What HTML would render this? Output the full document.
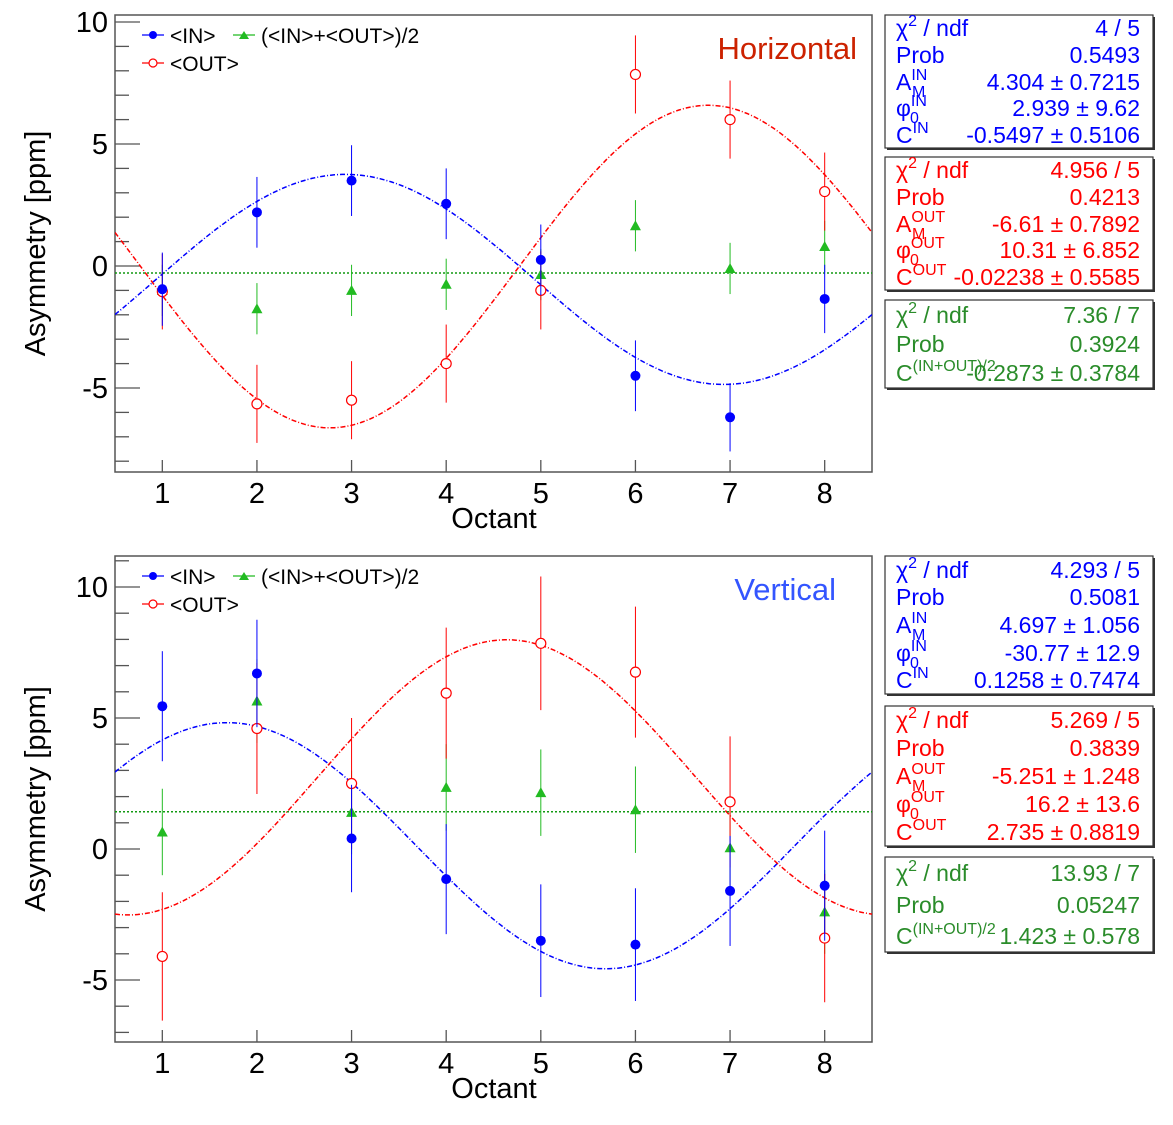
<!DOCTYPE html>
<html><head><meta charset="utf-8">
<style>
html,body{margin:0;padding:0;background:#fff;}
svg{display:block;font-family:"Liberation Sans",sans-serif;}
</style></head>
<body>
<svg id="root" width="1173" height="1125" viewBox="0 0 1173 1125" xmlns="http://www.w3.org/2000/svg"></svg>
<script>
// ---- data ----
const octants = [1,2,3,4,5,6,7,8];
const hIn = [-0.95,2.2,3.5,2.55,0.25,-4.5,-6.2,-1.35];
const hInErr = [1.5,1.45,1.45,1.45,1.45,1.45,1.4,1.4];
const hOut = [-1.05,-5.65,-5.5,-4.0,-1.0,7.85,6.0,3.05];
const hOutErr = [1.55,1.6,1.6,1.6,1.6,1.6,1.6,1.6];
const hAvg = [-1.0,-1.75,-1.0,-0.75,-0.35,1.65,-0.1,0.8];
const hAvgErr = [1.05,1.05,1.05,1.05,1.05,1.05,1.05,1.05];
const hInFit = [4.304,2.939,-0.5497];
const hOutFit = [-6.61,10.31,-0.02238];
const hAvgFit = [-0.2873];

const vIn = [5.45,6.7,0.4,-1.15,-3.5,-3.65,-1.6,-1.4];
const vInErr = [2.1,2.05,2.05,2.1,2.15,2.15,2.1,2.1];
const vOut = [-4.1,4.6,2.5,5.95,7.85,6.75,1.8,-3.4];
const vOutErr = [2.45,2.5,2.5,2.5,2.55,2.5,2.5,2.45];
const vAvg = [0.65,5.65,1.4,2.35,2.15,1.5,0.05,-2.4];
const vAvgErr = [1.65,1.6,1.6,1.65,1.65,1.65,1.65,1.6];
const vInFit = [4.697,-30.77,0.1258];
const vOutFit = [-5.251,16.2,2.735];
const vAvgFit = [1.423];

const yTicks = [10,5,0,-5];
const xTicks = [1,2,3,4,5,6,7,8];

const NS='http://www.w3.org/2000/svg';
const root=document.getElementById('root');
function mk(tag,attrs,parent,text){const e=document.createElementNS(NS,tag);for(const k in attrs)e.setAttribute(k,attrs[k]);if(text!==undefined)e.textContent=text;(parent||root).appendChild(e);return e;}

const BLUE='#0000ff', RED='#ff0000', GREEN='#22bb22', GTXT='#2a8c2a';

// label builder: returns function(baselineY) -> svg markup
const sup=(b,s,sub,rest)=>y=>{
  let h=`<tspan y="${y}">${b}</tspan><tspan y="${y-10}" font-size="16">${s}</tspan>`;
  if(sub) h=`<tspan y="${y}">${b}</tspan><tspan y="${y-10}" font-size="16">${s}</tspan><tspan x="${896+(b==='A'?16:14)}" y="${y+7}" font-size="16">${sub}</tspan>`;
  if(rest) h+=`<tspan y="${y}">${rest}</tspan>`;
  return h;
};
const plain=t=>y=>`<tspan y="${y}">${t}</tspan>`;

function panel(cfg){
  const g=mk('g',{});
  
  
  const L=115,R=872,T=cfg.top,B=cfg.bottom;
  const xs=v=>L+(v-0.5)*(R-L)/8;
  const ys=v=>cfg.y0+(-v)*cfg.ppu;
  const fr=mk('rect',{x:L,y:T,width:R-L,height:B-T,fill:'none',stroke:'#555','stroke-width':1.5},g);
  
  for(let v=Math.ceil(cfg.ymin);v<=Math.floor(cfg.ymax);v++){
    const major=v%5===0;
    const t=mk('line',{x1:L,x2:L+(major?25:14),y1:ys(v),y2:ys(v),stroke:'#555','stroke-width':1.3},g);
    
  }
  yTicks.forEach(v=>{
    const t=mk('text',{x:108,y:ys(v)+10,'text-anchor':'end','font-size':29,fill:'#000'},g,String(v));
    
  });
  xTicks.forEach(v=>{
    const t=mk('line',{x1:xs(v),x2:xs(v),y1:B,y2:B-12,stroke:'#555','stroke-width':1.3},g);
    
    const l=mk('text',{x:xs(v),y:B+31,'text-anchor':'middle','font-size':29,fill:'#000'},g,String(v));
    
  });
  const xt=mk('text',{x:494,y:B+56,'text-anchor':'middle','font-size':29,fill:'#000'},g,'Octant');
  
  const yt=mk('text',{x:0,y:0,'text-anchor':'middle','font-size':29,fill:'#000',transform:`translate(45,${(T+B)/2}) rotate(-90)`},g,'Asymmetry [ppm]');
  

  const clipId='clip'+cfg.name;
  const cp=mk('clipPath',{id:clipId},g);mk('rect',{x:L,y:T,width:R-L,height:B-T},cp);
  const pg=mk('g',{'clip-path':`url(#${clipId})`},g);

  function fitPath(f,color,name){
    let d='';
    for(let i=0;i<=200;i++){
      const o=0.5+8*i/200;const phi=(o-1)*45;
      const y=f[2]+f[0]*cfg.fn((phi+f[1])*Math.PI/180);
      d+=(i?'L':'M')+xs(o).toFixed(1)+','+ys(y).toFixed(1);
    }
    const p=mk('path',{d:d,fill:'none',stroke:color,'stroke-width':1.5,'stroke-dasharray':'5,2,1,2'},pg);
    
  }
  fitPath(cfg.inFit,BLUE,'fit-in');
  fitPath(cfg.outFit,RED,'fit-out');
  const gl=mk('line',{x1:L,x2:R,y1:ys(cfg.avgFit[0]),y2:ys(cfg.avgFit[0]),stroke:'#119911','stroke-width':1.5,'stroke-dasharray':'2,2'},pg);
  

  function series(vals,errs,color,kind,name){
    octants.forEach((o,i)=>{
      const x=xs(o),y=ys(vals[i]);
      const e=mk('line',{x1:x,x2:x,y1:ys(vals[i]+errs[i]),y2:ys(vals[i]-errs[i]),stroke:color,'stroke-width':1},pg);
      
      let m;
      if(kind==='in') m=mk('circle',{cx:x,cy:y,r:5,fill:color},pg);
      else if(kind==='out') m=mk('circle',{cx:x,cy:y,r:5,fill:'#fff',stroke:color,'stroke-width':1.2},pg);
      else m=mk('path',{d:`M${x-5.5},${y+4.5}L${x+5.5},${y+4.5}L${x},${y-5.5}Z`,fill:color},pg);
      
    });
  }
  series(cfg.avg,cfg.avgErr,GREEN,'avg','avg');
  series(cfg.out,cfg.outErr,RED,'out','out');
  series(cfg.in,cfg.inErr,BLUE,'in','in');

  const lg=mk('g',{},g);
  const ly=T+20;
  function entry(x,y,color,kind,label){
    const eg=mk('g',{},lg);
    mk('line',{x1:x,x2:x+22,y1:y,y2:y,stroke:color,'stroke-width':1.2},eg);
    if(kind==='in') mk('circle',{cx:x+11,cy:y,r:4,fill:color},eg);
    else if(kind==='out') mk('circle',{cx:x+11,cy:y,r:4,fill:'#fff',stroke:color,'stroke-width':1.2},eg);
    else mk('path',{d:`M${x+6},${y+4}L${x+16},${y+4}L${x+11},${y-4}Z`,fill:color},eg);
    mk('text',{x:x+28,y:y+8,'font-size':21,fill:'#000'},eg,label);
  }
  entry(142,ly,BLUE,'in','<IN>');
  entry(233,ly,GREEN,'avg','(<IN>+<OUT>)/2');
  entry(142,ly+28,RED,'out','<OUT>');
  const tt=mk('text',{x:cfg.titleX,y:T+44,'text-anchor':'end','font-size':31,fill:cfg.titleColor},g,cfg.title);
  

  cfg.boxes.forEach(b=>{
    const bg=mk('g',{},g);
    mk('rect',{x:887,y:b.y+2,width:268,height:b.h,fill:'#333'},bg);
    mk('rect',{x:885,y:b.y,width:268,height:b.h,fill:'#fff',stroke:'#333','stroke-width':1.2},bg);
    const n=b.rows.length,rh=b.h/n;
    b.rows.forEach((r,i)=>{
      const by=Math.round(b.y+rh*(i+0.5)+8);
      const t=mk('text',{x:896,y:by,'font-size':23,fill:b.color},bg);
      t.innerHTML=r[0](by);
      mk('text',{x:1140,y:by,'text-anchor':'end','font-size':23,fill:b.color},bg,r[1]);
    });
  });
}

panel({name:'horizontal-panel',top:15,bottom:472,y0:266,ppu:24.4,ymin:-8.5,ymax:10.2,fn:Math.sin,
  in:hIn,inErr:hInErr,out:hOut,outErr:hOutErr,avg:hAvg,avgErr:hAvgErr,inFit:hInFit,outFit:hOutFit,avgFit:hAvgFit,
  title:'Horizontal',titleColor:'#cc2200',titleX:857,
  boxes:[
    {name:'stats-box-in',y:15,h:133,color:BLUE,rows:[[sup('χ','2',null,' / ndf'),'4 / 5'],[plain('Prob'),'0.5493'],[sup('A','IN','M'),'4.304 ± 0.7215'],[sup('φ','IN','0'),'2.939 ±  9.62'],[sup('C','IN'),'-0.5497 ± 0.5106']]},
    {name:'stats-box-out',y:157,h:133,color:RED,rows:[[sup('χ','2',null,' / ndf'),'4.956 / 5'],[plain('Prob'),'0.4213'],[sup('A','OUT','M'),'-6.61 ± 0.7892'],[sup('φ','OUT','0'),'10.31 ± 6.852'],[sup('C','OUT'),'-0.02238 ± 0.5585']]},
    {name:'stats-box-avg',y:300,h:88,color:GTXT,rows:[[sup('χ','2',null,' / ndf'),'7.36 / 7'],[plain('Prob'),'0.3924'],[sup('C','(IN+OUT)/2'),'-0.2873 ± 0.3784']]}
  ]});

panel({name:'vertical-panel',top:556,bottom:1042,y0:849,ppu:26.2,ymin:-7.5,ymax:11,fn:Math.cos,
  in:vIn,inErr:vInErr,out:vOut,outErr:vOutErr,avg:vAvg,avgErr:vAvgErr,inFit:vInFit,outFit:vOutFit,avgFit:vAvgFit,
  title:'Vertical',titleColor:'#3355ff',titleX:836,
  boxes:[
    {name:'stats-box-in',y:556,h:138,color:BLUE,rows:[[sup('χ','2',null,' / ndf'),'4.293 / 5'],[plain('Prob'),'0.5081'],[sup('A','IN','M'),'4.697 ± 1.056'],[sup('φ','IN','0'),'-30.77 ±  12.9'],[sup('C','IN'),'0.1258 ± 0.7474']]},
    {name:'stats-box-out',y:706,h:140,color:RED,rows:[[sup('χ','2',null,' / ndf'),'5.269 / 5'],[plain('Prob'),'0.3839'],[sup('A','OUT','M'),'-5.251 ± 1.248'],[sup('φ','OUT','0'),'16.2 ±  13.6'],[sup('C','OUT'),'2.735 ± 0.8819']]},
    {name:'stats-box-avg',y:857,h:95,color:GTXT,rows:[[sup('χ','2',null,' / ndf'),'13.93 / 7'],[plain('Prob'),'0.05247'],[sup('C','(IN+OUT)/2'),'1.423 ± 0.578']]}
  ]});
</script>
</body></html>
